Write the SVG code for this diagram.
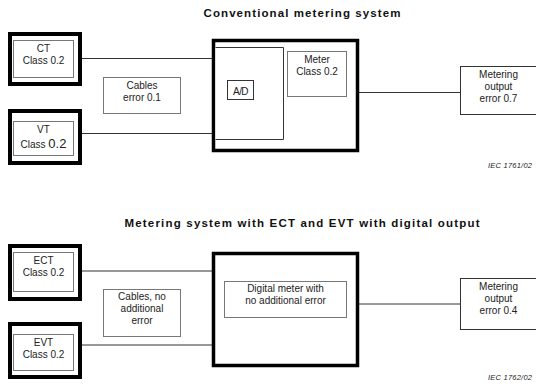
<svg xmlns="http://www.w3.org/2000/svg" width="536" height="389" viewBox="0 0 536 389">
  <style>
    .title { font-family: "Liberation Sans", Arial, sans-serif; font-size: 11.5px; font-weight: bold; fill: #111; text-anchor: middle; }
    .lbl { font-family: "Liberation Sans", Arial, sans-serif; font-size: 10px; fill: #222; text-anchor: middle; }
    .ref { font-family: "Liberation Sans", Arial, sans-serif; font-size: 7.5px; font-style: italic; fill: #222; }
    .thick { fill: #fff; stroke: #000; stroke-width: 4; }
    .heavy { fill: #fff; stroke: #000; stroke-width: 3.5; }
    .inner { fill: #fff; stroke: #777; stroke-width: 1; }
    .thin { fill: #fff; stroke: #333; stroke-width: 1; }
    .wire { stroke: #333; stroke-width: 1; fill: none; }
  </style>

  <!-- Conventional metering system -->
  <text class="title" x="302" y="17" textLength="197" lengthAdjust="spacing">Conventional metering system</text>

  <g id="connectors-top">
    <line class="wire" x1="82" y1="58.5" x2="212" y2="58.5"/>
    <line class="wire" x1="82" y1="133.5" x2="212" y2="133.5"/>
    <line class="wire" x1="359" y1="92.5" x2="461" y2="92.5"/>
  </g>

  <g id="ct">
    <rect class="thick" x="10" y="34" width="70" height="50"/>
    <rect class="inner" x="13.5" y="40.5" width="60" height="37"/>
    <text class="lbl" x="43.5" y="52">CT</text>
    <text class="lbl" x="43.5" y="64">Class 0.2</text>
  </g>

  <g id="vt">
    <rect class="thick" x="10" y="111" width="70" height="52"/>
    <rect class="inner" x="13.5" y="121.5" width="60" height="34"/>
    <text class="lbl" x="43.5" y="133">VT</text>
    <text class="lbl" x="43.5" y="148">Class <tspan font-size="13">0.2</tspan></text>
  </g>

  <g id="cables-top">
    <rect class="inner" x="103.5" y="77.5" width="77" height="36"/>
    <text class="lbl" x="142" y="89">Cables</text>
    <text class="lbl" x="142" y="101">error 0.1</text>
  </g>

  <g id="meter-top">
    <rect class="heavy" x="213.5" y="40.5" width="144" height="110"/>
    <path class="thin" d="M215.5 47.5 H283.5 V139.5 H215.5"/>
    <rect class="thin" x="227.5" y="80.5" width="26" height="19"/>
    <text class="lbl" x="240.5" y="95" font-size="12.5" letter-spacing="-0.6">A/D</text>
    <rect class="inner" x="287.5" y="51.5" width="59" height="45"/>
    <text class="lbl" x="317" y="63">Meter</text>
    <text class="lbl" x="317" y="75">Class 0.2</text>
  </g>

  <g id="output-top">
    <rect class="thin" x="460.5" y="66.5" width="80" height="48"/>
    <text class="lbl" x="498.5" y="78">Metering</text>
    <text class="lbl" x="498.5" y="90">output</text>
    <text class="lbl" x="498.5" y="102">error 0.7</text>
  </g>

  <text class="ref" x="488" y="168" textLength="44" lengthAdjust="spacing">IEC  1761/02</text>

  <!-- Metering system with ECT and EVT with digital output -->
  <text class="title" x="302" y="227" textLength="355" lengthAdjust="spacing">Metering system with ECT and EVT with digital output</text>

  <g id="connectors-bottom">
    <line class="wire" x1="82" y1="271" x2="212" y2="271"/>
    <line class="wire" x1="82" y1="345" x2="212" y2="345"/>
    <line class="wire" x1="359" y1="304" x2="461" y2="304"/>
  </g>

  <g id="ect">
    <rect class="thick" x="10" y="246" width="70" height="53"/>
    <rect class="inner" x="13.5" y="252.5" width="60" height="39"/>
    <text class="lbl" x="43.5" y="264">ECT</text>
    <text class="lbl" x="43.5" y="276">Class 0.2</text>
  </g>

  <g id="evt">
    <rect class="thick" x="10" y="324" width="70" height="53"/>
    <rect class="inner" x="13.5" y="334.5" width="60" height="36"/>
    <text class="lbl" x="43.5" y="346">EVT</text>
    <text class="lbl" x="43.5" y="358">Class 0.2</text>
  </g>

  <g id="cables-bottom">
    <rect class="inner" x="103.5" y="289.5" width="77" height="47"/>
    <text class="lbl" x="142" y="300">Cables, no</text>
    <text class="lbl" x="142" y="312">additional</text>
    <text class="lbl" x="142" y="324">error</text>
  </g>

  <g id="meter-bottom">
    <rect class="heavy" x="213.5" y="253.5" width="144" height="112"/>
    <rect class="inner" x="224.5" y="281.5" width="122" height="36"/>
    <text class="lbl" x="285.5" y="292">Digital meter with</text>
    <text class="lbl" x="285.5" y="304">no additional error</text>
  </g>

  <g id="output-bottom">
    <rect class="thin" x="460.5" y="278.5" width="80" height="51"/>
    <text class="lbl" x="498.5" y="290">Metering</text>
    <text class="lbl" x="498.5" y="302">output</text>
    <text class="lbl" x="498.5" y="314">error 0.4</text>
  </g>

  <text class="ref" x="488" y="380" textLength="44" lengthAdjust="spacing">IEC  1762/02</text>
</svg>
